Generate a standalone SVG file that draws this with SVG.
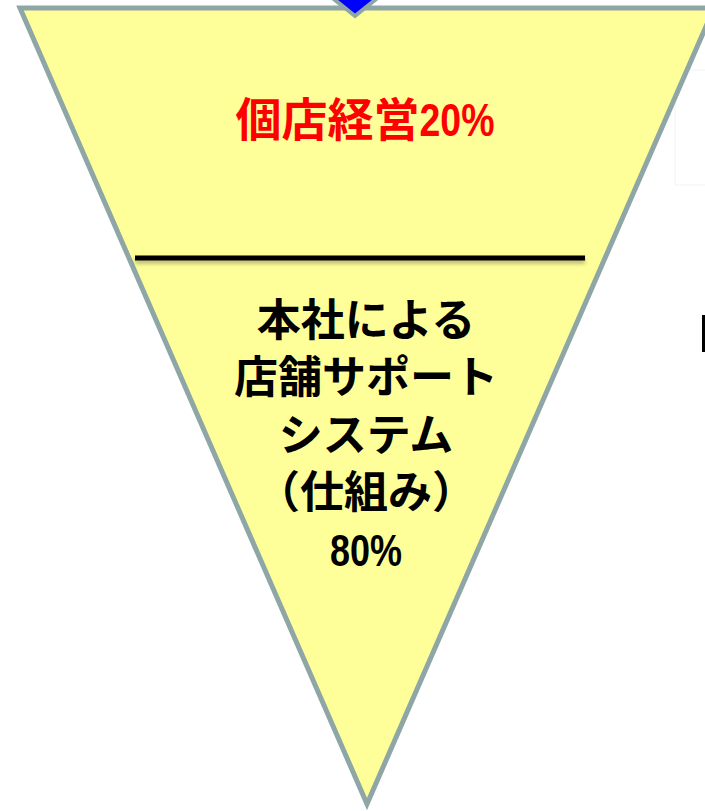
<svg xmlns="http://www.w3.org/2000/svg" width="705" height="811" viewBox="0 0 705 811">
  <style>
    .cjk { font-family: "Noto Sans CJK JP", "Liberation Sans", sans-serif; font-weight: bold; text-anchor: middle; }
    .num { font-family: "Liberation Sans", "Noto Sans CJK JP", sans-serif; font-weight: bold; }
  </style>
  <defs>
    <filter id="shadow" filterUnits="userSpaceOnUse" x="120" y="240" width="480" height="40">
      <feGaussianBlur in="SourceAlpha" stdDeviation="2"/>
      <feOffset dx="0" dy="3" result="b"/>
      <feComponentTransfer><feFuncA type="linear" slope="0.3"/></feComponentTransfer>
      <feMerge><feMergeNode/><feMergeNode in="SourceGraphic"/></feMerge>
    </filter>
  </defs>
  <rect width="705" height="811" fill="#ffffff"/>
  <g id="faint-box">
    <rect x="675" y="70" width="40" height="115" fill="none" stroke="#f3f3f3" stroke-width="1"/>
  </g>
  <g id="funnel">
    <polygon points="20,8 714,8 367,804" fill="#FFFF99" stroke="#8FA6A6" stroke-width="5" stroke-linejoin="miter"/>
  </g>
  <g id="top-arrow">
    <polygon points="320,-12 390,-12 355,16" fill="#0000FF" stroke="#8FA6A6" stroke-width="4"/>
  </g>
  <g id="divider">
    <rect x="135" y="255.5" width="450" height="5" fill="#000000" filter="url(#shadow)"/>
  </g>
  <g id="upper-label">
    <text x="365" y="136" class="cjk" font-size="46" fill="#FF0000">個店経営<tspan class="num" textLength="75" lengthAdjust="spacingAndGlyphs">20%</tspan></text>
  </g>
  <g id="lower-label" fill="#000000">
    <text x="366" y="336" class="cjk" font-size="44">本社による</text>
    <text x="366" y="393" class="cjk" font-size="44">店舗サポート</text>
    <text x="366" y="451" class="cjk" font-size="44">システム</text>
    <text x="366" y="508" class="cjk" font-size="44">（仕組み）</text>
    <text x="330" y="566" class="num" font-size="44" textLength="72" lengthAdjust="spacingAndGlyphs">80%</text>
  </g>
  <g id="edge-fragment">
    <rect x="702" y="315" width="4" height="37" fill="#000000"/>
  </g>
</svg>
